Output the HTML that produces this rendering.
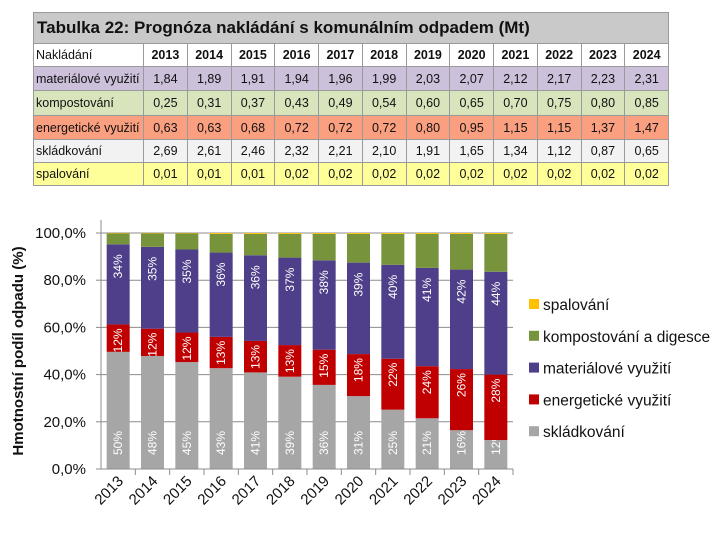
<!DOCTYPE html>
<html><head><meta charset="utf-8">
<style>
body{margin:0;width:720px;height:540px;background:#fff;overflow:hidden;font-family:"Liberation Sans","DejaVu Sans",sans-serif;}
#tbl{position:absolute;left:33px;top:12px;border-collapse:collapse;table-layout:fixed;width:635px;font-size:12.5px;color:#111;font-family:"Liberation Sans Narrow","Liberation Sans",sans-serif;}
#tbl td{border:1px solid #9a9a9a;padding:0;height:22px;line-height:14px;text-align:center;white-space:nowrap;overflow:hidden;}
#tbl td.n{text-align:left;padding-left:2px;}
#tbl tr.h td{font-weight:bold;}
#tbl .title td{background:#c9c9c9;height:30px;font-size:17px;font-weight:bold;text-align:left;padding-left:3px;font-family:"Liberation Sans",sans-serif;}
svg{position:absolute;left:0;top:0;}
</style></head><body>
<table id="tbl">
<colgroup><col style="width:110px"><col span="12" style="width:43.75px"></colgroup>
<tr class="title"><td colspan="13">Tabulka 22: Prognóza nakládání s komunálním odpadem (Mt)</td></tr>
<tr class="h"><td class="n" style="font-weight:normal">Nakládání</td><td>2013</td><td>2014</td><td>2015</td><td>2016</td><td>2017</td><td>2018</td><td>2019</td><td>2020</td><td>2021</td><td>2022</td><td>2023</td><td>2024</td></tr>
</table>
<svg id="chart" width="720" height="540"></svg>
<script>
const years=['2013','2014','2015','2016','2017','2018','2019','2020','2021','2022','2023','2024'];
const material=[1.84,1.89,1.91,1.94,1.96,1.99,2.03,2.07,2.12,2.17,2.23,2.31];
const kompost=[0.25,0.31,0.37,0.43,0.49,0.54,0.60,0.65,0.70,0.75,0.80,0.85];
const energ=[0.63,0.63,0.68,0.72,0.72,0.72,0.80,0.95,1.15,1.15,1.37,1.47];
const skladka=[2.69,2.61,2.46,2.32,2.21,2.10,1.91,1.65,1.34,1.12,0.87,0.65];
const spal=[0.01,0.01,0.01,0.02,0.02,0.02,0.02,0.02,0.02,0.02,0.02,0.02];
const lblSklad=['50%','48%','45%','43%','41%','39%','36%','31%','25%','21%','16%','12%'];
const lblEnerg=['12%','12%','12%','13%','13%','13%','15%','18%','22%','24%','26%','28%'];
const lblMat=['34%','35%','35%','36%','36%','37%','38%','39%','40%','41%','42%','44%'];
const yTicks=[0,20,40,60,80,100];

const tbl=document.getElementById('tbl');
const rows=[['materiálové využití',material,'#ccc0da','row-material'],['kompostování',kompost,'#d8e4bc','row-kompost'],['energetické využití',energ,'#fa9f7f','row-energ'],['skládkování',skladka,'#f2f2f2','row-skladka'],['spalování',spal,'#ffff99','row-spal']];
const rh=[23,24,23,22,18];
rows.forEach((r,j)=>{
  const tr=document.createElement('tr');
  
  
  tr.style.background=r[2];
  let h='<td class="n" style="height:'+rh[j]+'px">'+r[0]+'</td>';
  r[1].forEach(v=>{h+='<td>'+v.toFixed(2).replace('.',',')+'</td>';});
  tr.innerHTML=h; tbl.appendChild(tr);
});

const NS='http://www.w3.org/2000/svg';
const svg=document.getElementById('chart');
function el(t,a,txt){const e=document.createElementNS(NS,t);for(const k in a)e.setAttribute(k,a[k]);if(txt!==undefined)e.textContent=txt;svg.appendChild(e);return e;}
const X0=101,X1=513,Y0=469,Y100=233;
const band=(X1-X0)/years.length, bw=23;
const y=p=>Y0-(Y0-Y100)*p/100;
const xc=i=>X0+band*(i+0.5);

yTicks.forEach(t=>{
  const g=el('line',{x1:X0,x2:X1,y1:y(t),y2:y(t),stroke:'#8c8c8c','stroke-width':1});
  
  
  el('line',{x1:X0-5,x2:X0,y1:y(t),y2:y(t),stroke:'#8c8c8c'});
  const l=el('text',{x:86,y:y(t)+5,'text-anchor':'end','font-size':15,fill:'#111'},t.toFixed(1).replace('.',',')+'%');
  
  
});
el('line',{x1:X0,x2:X0,y1:220,y2:Y0,stroke:'#8c8c8c'});
const yt=el('text',{transform:'translate(23,351) rotate(-90)','text-anchor':'middle','font-size':15,'font-weight':'bold',fill:'#111'},'Hmotnostní podíl odpadu (%)');



const series=[[skladka,'#a6a6a6','skladkovani',lblSklad],[energ,'#c00000','energeticke',lblEnerg],[material,'#4f3f8a','materialove',lblMat],[kompost,'#77933c','kompostovani',null],[spal,'#ffc000','spalovani',null]];
years.forEach((yr,i)=>{
  el('line',{x1:X0+band*(i+1),x2:X0+band*(i+1),y1:Y0,y2:Y0+6,stroke:'#8c8c8c'});
  const tot=material[i]+kompost[i]+energ[i]+skladka[i]+spal[i];
  let cum=0;
  series.forEach((s,k)=>{
    const p=s[0][i]/tot*100;
    const yTop=y(cum+p), yBot=y(cum);
    const r=el('rect',{x:xc(i)-bw/2,y:yTop,width:bw,height:yBot-yTop,fill:s[1]});
    
    
    let ly=null;
    if(k===0) ly=Y0-26; else if(k===1) ly=yTop+16; else if(k===2) ly=yTop+22;
    if(ly!==null){
      const t=el('text',{transform:'translate('+(xc(i)+4)+','+ly+') rotate(-90)','text-anchor':'middle','font-size':12,fill:'#fff'},s[3][i]);
      
      
    }
    cum+=p;
  });
  const xl=el('text',{transform:'translate('+(xc(i)+6)+',482) rotate(-45)','text-anchor':'end','font-size':15,fill:'#111'},yr);
  
  
});
el('line',{x1:X0,x2:X1,y1:Y0,y2:Y0,stroke:'#8c8c8c'});

const legend=[['spalování','#ffc000'],['kompostování a digesce','#77933c'],['materiálové využití','#4f3f8a'],['energetické využití','#c00000'],['skládkování','#a6a6a6']];
legend.forEach((l,i)=>{
  const yy=305+i*31.8;
  const sq=el('rect',{x:529,y:yy-6,width:10,height:10,fill:l[1]});
  
  
  const t=el('text',{x:543,y:yy+5,'font-size':15.5,fill:'#111'},l[0]);
  
  
});
</script>
</body></html>
